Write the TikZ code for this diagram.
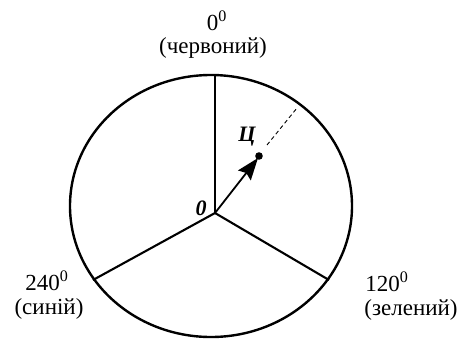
\documentclass[tikz,border=0pt]{standalone}
\usepackage{fontspec}
\setmainfont{Liberation Serif}
\usetikzlibrary{arrows.meta}
\begin{document}
\begin{tikzpicture}[x=1pt,y=-1pt,
  lbl/.style={font=\fontsize{23}{25}\selectfont, inner sep=0pt},
  mark lbl/.style={font=\fontsize{22}{24}\selectfont\bfseries\itshape, inner sep=0pt},
  spoke/.style={line width=2.1pt}]
\useasboundingbox (0,0) rectangle (462,340);
\coordinate (O) at (215,213);
\coordinate (Red) at (215,75);
\coordinate (Green) at (329,280);
\coordinate (Blue) at (93,280);
\coordinate (Tip) at (258,158);
\coordinate (Dash1) at (267,145);
\coordinate (Dash2) at (297,108);
% colour circle
\draw[line width=2.4pt] (211,206) ellipse [x radius=141pt, y radius=131pt];
\draw[line width=1.1pt] (O) -- (Red);
\draw[spoke] (O) -- (Green);
\draw[spoke] (O) -- (Blue);
% hue vector
\draw[line width=1.8pt, -{Stealth[length=22pt,width=16pt,inset=3pt]}] (O) -- (Tip);
\fill (259,156) circle [radius=3.8pt];
\draw[line width=0.9pt, dash pattern=on 4pt off 3pt] (Dash1) -- (Dash2);
\node[mark lbl] (hue) at (247,137) {Ц};
\node[mark lbl] (zero) at (201,208) {0};
% labels
\node[lbl] (deg0) at (217,21) {0\textsuperscript{0}};
\node[lbl] (red) at (213,48) {(червоний)};
\node[lbl] (deg240) at (47,281) {240\textsuperscript{0}};
\node[lbl] (blue) at (49,309) {(синій)};
\node[lbl] (deg120) at (387,282) {120\textsuperscript{0}};
\node[lbl] (green) at (411,310) {(зелений)};
\end{tikzpicture}
\end{document}
